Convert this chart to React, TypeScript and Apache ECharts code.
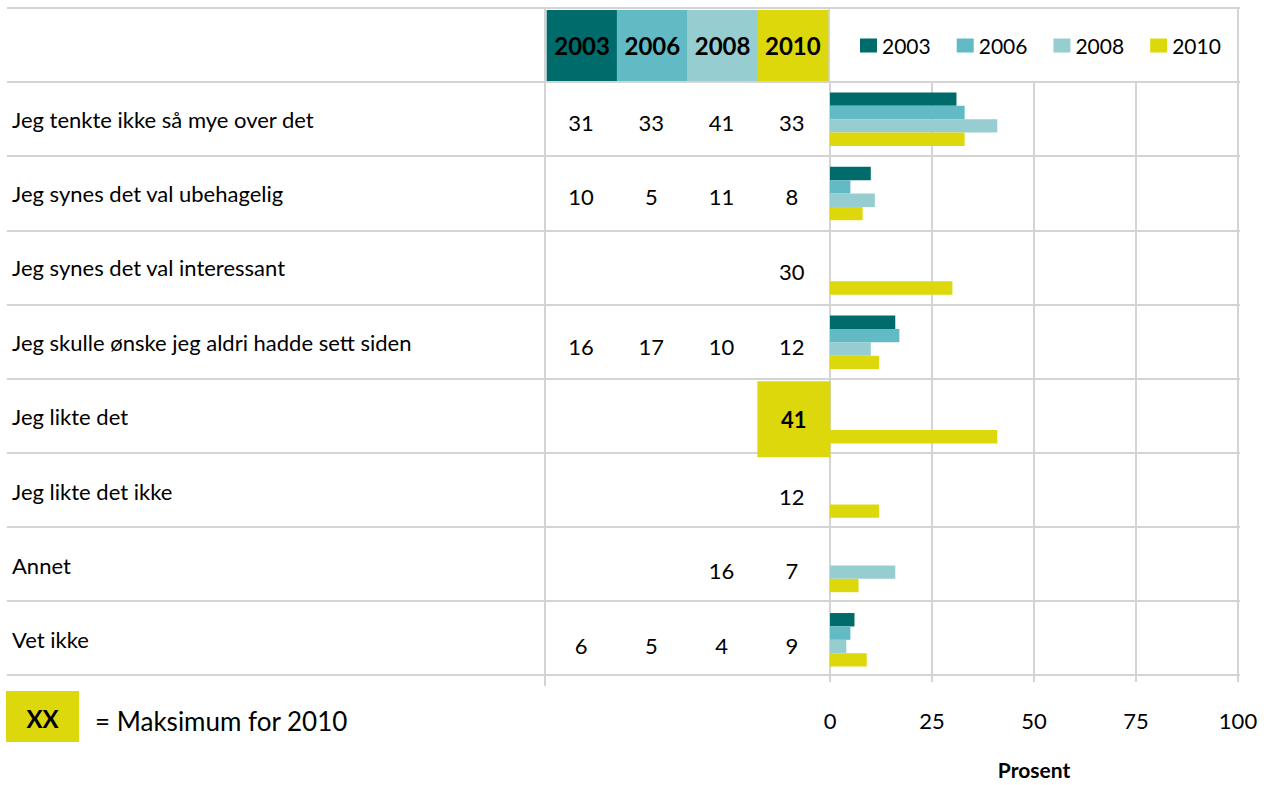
import React, { useEffect, useRef } from "react";
import * as echarts from "echarts";

const categories = [
  "Jeg tenkte ikke så mye over det",
  "Jeg synes det val ubehagelig",
  "Jeg synes det val interessant",
  "Jeg skulle ønske jeg aldri hadde sett siden",
  "Jeg likte det",
  "Jeg likte det ikke",
  "Annet",
  "Vet ikke",
];
const years = ["2003", "2006", "2008", "2010"];
const colors = ["#006B6B", "#62BBC4", "#96CDD0", "#DDD80B"];
const v2003: (number | null)[] = [31, 10, null, 16, null, null, null, 6];
const v2006: (number | null)[] = [33, 5, null, 17, null, null, null, 5];
const v2008: (number | null)[] = [41, 11, null, 10, null, null, 16, 4];
const v2010: (number | null)[] = [33, 8, 30, 12, 41, 12, 7, 9];
const axisMax = 100;
const axisStep = 25;

const FONT = "Lato, 'Open Sans', sans-serif";
const GRID = "#D4D4D4";

export default function App() {
  const ref = useRef<HTMLDivElement>(null);
  useEffect(() => {
    const chart = echarts.init(ref.current!, null, { renderer: "svg" });
    const seriesValues = [v2003, v2006, v2008, v2010];
    const max2010 = Math.max(...(v2010.filter((v) => v != null) as number[]));
    const tableData: any[] = [];
    seriesValues.forEach((arr, c) =>
      arr.forEach((v, r) => {
        if (v == null) return;
        const isMax = c === 3 && v === max2010;
        tableData.push({
          value: [c, r + 1, v],
          label: isMax
            ? {
                backgroundColor: colors[3],
                width: 73,
                height: 76,
                lineHeight: 76,
                fontWeight: "bold",
                offset: [1, 0],
                align: "center",
              }
            : undefined,
        });
      })
    );
    const headerData = years.map((y, i) => ({
      value: [i, 0, y],
      label: { backgroundColor: colors[i] },
    }));
    const rowIdx = ["h", ...categories.map((_, i) => String(i))];

    chart.setOption({
      animation: false,
      backgroundColor: "#ffffff",
      textStyle: { fontFamily: FONT },
      legend: {
        left: 855,
        top: 30,
        itemWidth: 17,
        itemHeight: 14,
        itemGap: 26,
        icon: "rect",
        textStyle: { fontSize: 21, color: "#000", fontFamily: FONT },
        data: years,
      },
      grid: [
        { left: 7, width: 1233, top: 8, height: 667 },
        { left: 830, width: 408, top: 82, height: 599 },
        { left: 547, width: 281, top: 8, height: 673 },
      ],
      xAxis: [
        { gridIndex: 0, type: "value", show: false },
        {
          gridIndex: 1,
          type: "value",
          min: 0,
          max: axisMax,
          interval: axisStep,
          axisLine: { show: false },
          axisTick: { show: true, length: 5, lineStyle: { color: GRID, width: 2 } },
          splitLine: { show: true, lineStyle: { color: GRID, width: 2 } },
          axisLabel: { fontSize: 22, color: "#000", margin: 32, fontFamily: FONT },
          name: "Prosent",
          nameLocation: "middle",
          nameGap: 82,
          nameTextStyle: { fontSize: 21, fontWeight: "bold", color: "#000", fontFamily: FONT },
        },
        { gridIndex: 2, type: "category", data: years, show: false },
      ],
      yAxis: [
        {
          gridIndex: 0,
          type: "category",
          data: rowIdx,
          axisLine: { show: false },
          axisTick: { show: false },
          axisLabel: { show: false },
          splitLine: { show: true, lineStyle: { color: GRID, width: 2 } },
        },
        {
          gridIndex: 1,
          type: "category",
          data: categories,
          inverse: true,
          axisLine: { show: false },
          axisTick: { show: false },
          splitLine: { show: false },
          axisLabel: {
            align: "left",
            margin: 818,
            fontSize: 22,
            color: "#000",
            fontFamily: FONT,
            padding: [9, 0, 0, 0],
          },
        },
        { gridIndex: 2, type: "category", data: rowIdx, inverse: true, show: false },
      ],
      series: [
        ...seriesValues.map((arr, i) => ({
          type: "bar",
          name: years[i],
          xAxisIndex: 1,
          yAxisIndex: 1,
          data: arr,
          barGap: "0%",
          barCategoryGap: "28%",
          itemStyle: { color: colors[i] },
          silent: true,
        })),
        {
          type: "scatter",
          xAxisIndex: 2,
          yAxisIndex: 2,
          symbolSize: 0,
          silent: true,
          data: tableData,
          itemStyle: { opacity: 1 },
          label: {
            show: true,
            position: "inside",
            formatter: (p: any) => String(p.value[2]),
            fontSize: 22,
            color: "#000",
            opacity: 1,
            fontFamily: FONT,
            offset: [-1, 2],
          },
          z: 5,
        },
        {
          type: "scatter",
          xAxisIndex: 2,
          yAxisIndex: 2,
          symbolSize: 0,
          silent: true,
          data: headerData,
          itemStyle: { opacity: 1 },
          label: {
            show: true,
            position: "inside",
            formatter: (p: any) => String(p.value[2]),
            fontSize: 24,
            fontWeight: "bold",
            color: "#000",
            opacity: 1,
            fontFamily: FONT,
            width: 71,
            height: 71,
            lineHeight: 71,
            align: "center",
            offset: [0, 0],
          },
          z: 5,
        },
      ],
      graphic: [
        { type: "line", shape: { x1: 545, y1: 8, x2: 545, y2: 686 }, style: { stroke: GRID, lineWidth: 2 }, z: 1 },
        { type: "line", shape: { x1: 829, y1: 8, x2: 829, y2: 82 }, style: { stroke: GRID, lineWidth: 2 }, z: 1 },
        { type: "line", shape: { x1: 1238, y1: 8, x2: 1238, y2: 82 }, style: { stroke: GRID, lineWidth: 2 }, z: 1 },
        { type: "rect", shape: { x: 6, y: 691, width: 73, height: 51 }, style: { fill: colors[3] } },
        {
          type: "text",
          x: 42.5,
          y: 718,
          style: { text: "XX", fontSize: 24, fontWeight: "bold", fill: "#000", align: "center", verticalAlign: "middle", fontFamily: FONT },
        },
        {
          type: "text",
          x: 95,
          y: 721,
          style: { text: "= Maksimum for 2010", fontSize: 26, fill: "#000", align: "left", verticalAlign: "middle", fontFamily: FONT },
        },
      ],
    });
    return () => chart.dispose();
  }, []);
  return (
    <div
      ref={ref}
      style={{ position: "fixed", left: 0, top: 0, width: 1264, height: 785, background: "#fff" }}
    />
  );
}
